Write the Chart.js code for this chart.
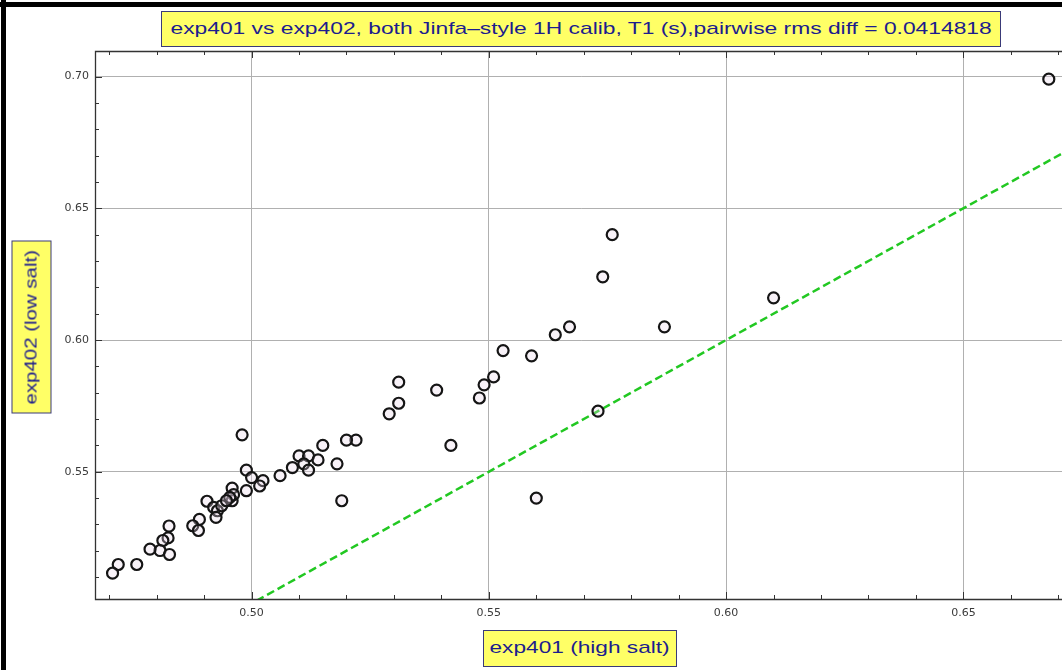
<!DOCTYPE html>
<html>
<head>
<meta charset="utf-8">
<script src="https://cdn.jsdelivr.net/npm/chart.js@4.4.1/dist/chart.umd.min.js"></script>
<style>
  html, body { margin: 0; padding: 0; background: #fff; overflow: hidden; width: 1062px; height: 670px; }
  #wrap { position: absolute; left: 0; top: 0; width: 1075px; height: 670px; }
  #chart { display: block; }
  .bar { position: absolute; background: #000; }
  .label-box {
    position: absolute; box-sizing: border-box;
    background: #ffff66; border: 1.5px solid #3a3a78;
    color: #1c1c8e; font-family: "Liberation Sans", Arial, sans-serif;
    font-size: 17px; text-align: center; white-space: nowrap;
  }
  .label-box span { display: inline-block; transform-origin: center center; }
</style>
</head>
<body>
<div id="wrap"><canvas id="chart" width="1075" height="670" style="width:1075px;height:670px"></canvas></div>
<div class="bar" style="left:0;top:2px;width:1062px;height:5px"></div>
<div class="bar" style="left:1px;top:0;width:5px;height:670px"></div>
<div class="label-box" id="title" style="left:161px;top:11px;width:840px;height:36px;line-height:33px"></div>
<div class="label-box" id="xlabel" style="left:483px;top:630px;width:194px;height:37px;line-height:34px"></div>
<div class="label-box" id="ylabel" style="left:-55.5px;top:306.5px;width:173px;height:40px;line-height:37px;transform:rotate(-90deg)"></div>
<script>
const titleText = 'exp401 vs exp402, both Jinfa–style 1H calib, T1 (s),pairwise rms diff = 0.0414818';
const xTitle = 'exp401 (high salt)';
const yTitle = 'exp402 (low salt)';

// T1 values (x = high salt, y = low salt)
const highSalt = [
  0.668, 0.576, 0.574, 0.610, 0.567, 0.587, 0.564, 0.553, 0.559, 0.531,
  0.539, 0.551, 0.549, 0.548, 0.531, 0.529, 0.573, 0.542, 0.560, 0.498,
  0.522, 0.520, 0.515, 0.518, 0.519, 0.510, 0.512, 0.514, 0.5086, 0.511,
  0.512, 0.506, 0.5024, 0.5017, 0.4989, 0.500, 0.4989, 0.4959, 0.4959, 0.4962,
  0.4954, 0.4906, 0.492, 0.4928, 0.4925, 0.4937, 0.4947, 0.489, 0.4876, 0.4888,
  0.4826, 0.4824, 0.4813, 0.4807, 0.4827, 0.4786, 0.4758, 0.4719, 0.4707
];
const lowSalt = [
  0.699, 0.640, 0.624, 0.616, 0.605, 0.605, 0.602, 0.596, 0.594, 0.584,
  0.581, 0.586, 0.583, 0.578, 0.576, 0.572, 0.573, 0.560, 0.540, 0.564,
  0.562, 0.562, 0.560, 0.553, 0.539, 0.556, 0.556, 0.5545, 0.5516, 0.553,
  0.5506, 0.5485, 0.5466, 0.5446, 0.5506, 0.5478, 0.5428, 0.5438, 0.539, 0.5413,
  0.5403, 0.5388, 0.5365, 0.5352, 0.5327, 0.5371, 0.539, 0.5319, 0.5295, 0.5277,
  0.5294, 0.5249, 0.5239, 0.5201, 0.5186, 0.5206, 0.5148, 0.5148, 0.5115
];
// y = x reference line
const identityEnds = [0.49, 0.70];

const xTickValues = [0.47, 0.48, 0.49, 0.50, 0.51, 0.52, 0.53, 0.54, 0.55, 0.56, 0.57,
  0.58, 0.59, 0.60, 0.61, 0.62, 0.63, 0.64, 0.65, 0.66, 0.67];
const yTickValues = [0.51, 0.52, 0.53, 0.54, 0.55, 0.56, 0.57, 0.58, 0.59, 0.60,
  0.61, 0.62, 0.63, 0.64, 0.65, 0.66, 0.67, 0.68, 0.69, 0.70];
const xTickLabels = ['0.50', '0.55', '0.60', '0.65'];
const yTickLabels = ['0.55', '0.60', '0.65', '0.70'];

function fitText(id, text, width) {
  const box = document.getElementById(id);
  const span = document.createElement('span');
  span.textContent = text;
  box.appendChild(span);
  span.style.transform = `scaleX(${width / span.offsetWidth})`;
}
fitText('title', titleText, 821);
fitText('xlabel', xTitle, 180);
fitText('ylabel', yTitle, 155);

function labelFor(list, value) {
  return list.find(label => Math.abs(parseFloat(label) - value) < 1e-6) || '';
}

// frame is cut off on the right in the original, so only left/top/bottom are drawn
const frameTicks = {
  id: 'frameTicks',
  afterDraw(chart) {
    const { ctx, chartArea: a, scales } = chart;
    ctx.save();
    ctx.strokeStyle = '#333';
    ctx.lineWidth = 1;
    ctx.beginPath();
    xTickValues.forEach(v => {
      const px = Math.round(scales.x.getPixelForValue(v)) + 0.5;
      const len = labelFor(xTickLabels, v) ? 7 : 4;
      ctx.moveTo(px, a.bottom); ctx.lineTo(px, a.bottom - len);
      ctx.moveTo(px, a.top); ctx.lineTo(px, a.top + len);
    });
    yTickValues.forEach(v => {
      const py = Math.round(scales.y.getPixelForValue(v)) + 0.5;
      const len = labelFor(yTickLabels, v) ? 7 : 4;
      ctx.moveTo(a.left, py); ctx.lineTo(a.left + len, py);
    });
    ctx.stroke();
    ctx.lineWidth = 1.3;
    ctx.beginPath();
    ctx.moveTo(a.right + 20, a.top + 0.5);
    ctx.lineTo(a.left + 0.5, a.top + 0.5);
    ctx.lineTo(a.left + 0.5, a.bottom + 0.5);
    ctx.lineTo(a.right + 20, a.bottom + 0.5);
    ctx.stroke();
    ctx.restore();
  }
};

new Chart(document.getElementById('chart'), {
  type: 'scatter',
  data: {
    datasets: [
      {
        data: highSalt.map((x, i) => ({ x, y: lowSalt[i] })),
        pointRadius: 5.5,
        pointBorderWidth: 2.2,
        borderColor: '#151515',
        backgroundColor: 'rgba(232, 212, 232, 0.3)',
        order: 1
      },
      {
        type: 'line',
        data: identityEnds.map(v => ({ x: v, y: v })),
        borderColor: '#22c822',
        borderWidth: 2.5,
        borderDash: [8, 4],
        pointRadius: 0,
        fill: false,
        order: 2
      }
    ]
  },
  options: {
    responsive: false,
    animation: false,
    devicePixelRatio: 1,
    layout: { padding: { top: 51, left: 0, right: 0, bottom: 0 } },
    plugins: { legend: { display: false }, tooltip: { enabled: false } },
    scales: {
      x: {
        type: 'linear',
        min: 0.467,
        max: 0.6719,
        afterBuildTicks: scale => { scale.ticks = xTickValues.map(value => ({ value })); },
        afterFit: scale => { scale.height = 71; },
        border: { display: false },
        grid: {
          drawTicks: false,
          color: ctx => labelFor(xTickLabels, ctx.tick.value) ? '#b0b0b0' : 'rgba(0,0,0,0)'
        },
        ticks: {
          autoSkip: false,
          maxRotation: 0,
          padding: 8,
          color: '#3a3a3a',
          font: { family: 'DejaVu Sans', size: 11 },
          callback: value => labelFor(xTickLabels, value)
        }
      },
      y: {
        type: 'linear',
        min: 0.5017,
        max: 0.7097,
        afterBuildTicks: scale => { scale.ticks = yTickValues.map(value => ({ value })); },
        afterFit: scale => { scale.width = 95; },
        border: { display: false },
        grid: {
          drawTicks: false,
          color: ctx => labelFor(yTickLabels, ctx.tick.value) ? '#b0b0b0' : 'rgba(0,0,0,0)'
        },
        ticks: {
          autoSkip: false,
          padding: 6,
          color: '#3a3a3a',
          font: { family: 'DejaVu Sans', size: 11 },
          callback: value => labelFor(yTickLabels, value)
        }
      }
    }
  },
  plugins: [frameTicks]
});
</script>
</body>
</html>
